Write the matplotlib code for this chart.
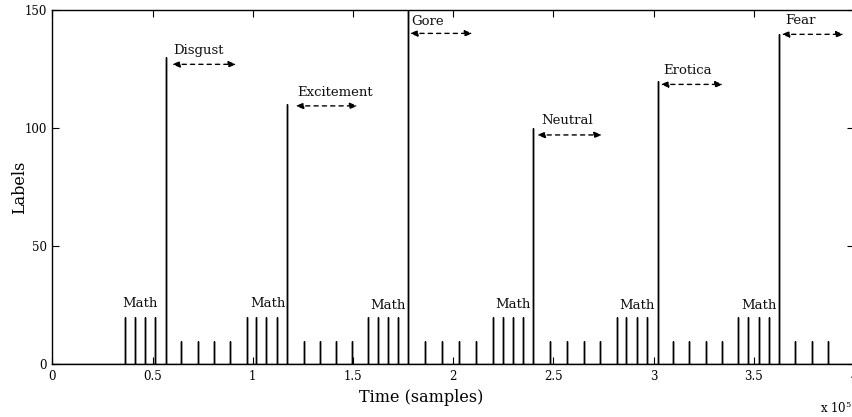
import matplotlib
matplotlib.use('Agg')
import matplotlib.pyplot as plt

# ---- data (time in samples) ----
math_times = [36250, 41100, 46250, 51400,
              97100, 101600, 106750, 112100,
              157750, 162400, 167600, 172600,
              220100, 224900, 230100, 235100,
              281600, 286400, 291600, 296750,
              342250, 347250, 352400, 357400]
math_height = 20

rest_times = [64250, 72600, 80900, 88750,
              125400, 133400, 141400, 149600,
              185900, 194600, 203100, 211600,
              248400, 256600, 265100, 273100,
              309750, 317900, 326250, 334100,
              370750, 379100, 387250]
rest_height = 10

stim_names = ['Disgust', 'Excitement', 'Gore', 'Neutral', 'Erotica', 'Fear']
stim_times = [56750, 117100, 177600, 239900, 302000, 362600]
stim_heights = [130, 110, 150, 100, 120, 140]

arrow_start = [59700, 121350, 178350, 241850, 303500, 363850]
arrow_end = [91850, 152350, 209700, 274350, 334700, 395000]
arrow_y = [127.0, 109.4, 140.1, 97.1, 118.5, 139.7]
name_x = [60500, 122200, 179200, 243850, 304700, 365500]
name_y = [131.4, 113.7, 143.6, 101.7, 122.8, 144.1]

math_label_x = [34700, 98850, 158500, 220850, 283000, 343850]
math_label_y = [24.4, 24.4, 23.4, 23.7, 23.4, 23.4]

xtick_vals = [0, 0.5, 1, 1.5, 2, 2.5, 3, 3.5, 4]
xtick_labels = ['0', '0.5', '1', '1.5', '2', '2.5', '3', '3.5', '4']
ytick_vals = [0, 50, 100, 150]

plt.rcParams['font.family'] = ['DejaVu Serif']
plt.rcParams['mathtext.fontset'] = 'dejavuserif'

fig = plt.figure(figsize=(8.52, 4.17), dpi=100)
ax = fig.add_axes([52.3 / 852, (417 - 364.3) / 417, 801.6 / 852, (364.3 - 10) / 417])

# build impulse signal
events = [(t, math_height) for t in math_times] + \
         [(t, rest_height) for t in rest_times] + \
         [(t, h) for t, h in zip(stim_times, stim_heights)]
events.sort()
xs, ys = [0], [0]
for t, h in events:
    xs += [t, t, t]
    ys += [0, h, 0]
xs.append(400000)
ys.append(0)
ax.plot(xs, ys, color='black', lw=1.0, solid_joinstyle='miter')

for i, name in enumerate(stim_names):
    ax.annotate('', xy=(arrow_end[i], arrow_y[i]), xytext=(arrow_start[i], arrow_y[i]),
                arrowprops=dict(arrowstyle='<|-|>,head_length=0.45,head_width=0.18',
                                linestyle=(0, (3, 3)), lw=1.0, color='black',
                                shrinkA=0, shrinkB=0))
    ax.text(name_x[i], name_y[i], name, fontsize=9.5, ha='left', va='baseline', color='#111111')

for x, y in zip(math_label_x, math_label_y):
    ax.text(x, y, 'Math', fontsize=9.5, ha='left', va='baseline', color='#111111')

ax.set_xlim(0, 400000)
ax.set_ylim(0, 150)
ax.set_xticks([v * 1e5 for v in xtick_vals])
ax.set_xticklabels(xtick_labels)
ax.set_yticks(ytick_vals)
ax.tick_params(direction='in', length=5, width=0.8, top=True, right=True,
               labelsize=8.5, pad=4)
for s in ax.spines.values():
    s.set_linewidth(1.0)

ax.set_xlabel('Time (samples)', fontsize=11.5)
ax.set_ylabel('Labels', fontsize=11.5)
ax.xaxis.set_label_coords((421.5 - 52.3) / 801.6, -(398 - 364.3) / 354.3)
ax.yaxis.set_label_coords((20 - 52.3) / 801.6, 0.5)
ax.xaxis.label.set_verticalalignment('center')
ax.yaxis.label.set_verticalalignment('center')

fig.text(820 / 852, (417 - 413) / 417, r'x 10$^{5}$', fontsize=8.5, ha='left', va='baseline')

fig.savefig('out.png', dpi=100)
